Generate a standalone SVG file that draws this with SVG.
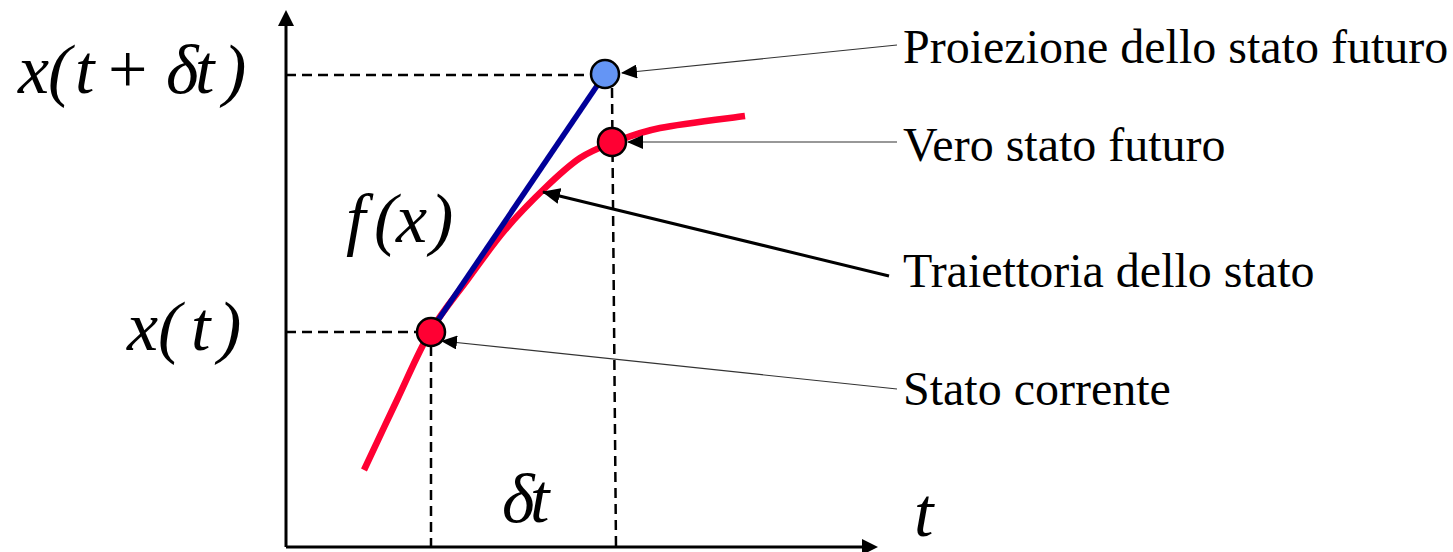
<svg xmlns="http://www.w3.org/2000/svg" width="1453" height="552" viewBox="0 0 1453 552">
<style>
.lbl{font-family:"Liberation Serif","Times New Roman",serif;font-size:48px;fill:#000}
.math{font-family:"Liberation Serif","Times New Roman",serif;font-style:italic;font-size:70px;fill:#000}
.up{font-style:normal}
.dash{stroke:#000;stroke-width:2.5;stroke-dasharray:10 6;fill:none}
.axis{stroke:#000;stroke-width:3;fill:none}
.thin{stroke:#333;stroke-width:1.2;fill:none}
.pt{stroke:#000;stroke-width:2.5}
</style>
<defs>
<marker id="ah" markerUnits="userSpaceOnUse" markerWidth="16" markerHeight="14" refX="15" refY="7" orient="auto">
<path d="M0,0 L16,7 L0,14 Z" fill="#000"/>
</marker>
<marker id="ahb" markerUnits="userSpaceOnUse" markerWidth="18" markerHeight="16" refX="17" refY="8" orient="auto">
<path d="M0,0 L18,8 L0,16 Z" fill="#000"/>
</marker>
</defs>
<rect width="1453" height="552" fill="#fff"/>
<g id="axes">
<line class="axis" x1="286" y1="547" x2="286" y2="24"/>
<path d="M286,10 L294,26 L278,26 Z" fill="#000"/>
<line class="axis" x1="286" y1="547" x2="863" y2="547"/>
<path d="M878,547 L862,539 L862,555 Z" fill="#000"/>
</g>
<g id="guides">
<line class="dash" x1="286" y1="75" x2="592" y2="75"/>
<line class="dash" x1="612" y1="88" x2="616" y2="547"/>
<line class="dash" x1="286" y1="332" x2="417" y2="332"/>
<line class="dash" x1="431" y1="346" x2="431" y2="547"/>
</g>
<g id="trajectory">
<path d="M364,470 C369.5,458.3 386,423 397,400 C408,377 418.2,352.2 430,332 C441.8,311.8 455.5,296 468,279 C480.5,262 492.2,245.2 505,230 C517.8,214.8 532.5,200 545,188 C557.5,176 568.8,165.5 580,158 C591.2,150.5 598.7,148 612,143 C625.3,138 637.8,132.5 660,128 C682.2,123.5 730.8,118 745,116" fill="none" stroke="#ff0033" stroke-width="6.5"/>
</g>
<g id="tangent">
<line x1="430" y1="332" x2="605" y2="74" stroke="#000099" stroke-width="5.5"/>
</g>
<g id="point-current"><circle class="pt" cx="431" cy="332" r="14" fill="#ff0033"/></g>
<g id="point-future"><circle class="pt" cx="612" cy="142" r="14" fill="#ff0033"/></g>
<g id="point-projection"><circle class="pt" cx="605" cy="74" r="14" fill="#6495f5"/></g>
<g id="connectors">
<line class="thin" x1="897" y1="45" x2="622" y2="73" marker-end="url(#ah)"/>
<line class="thin" x1="897" y1="142" x2="628" y2="142" marker-end="url(#ah)"/>
<line x1="889" y1="276" x2="543" y2="192" stroke="#000" stroke-width="3" marker-end="url(#ahb)"/>
<line class="thin" x1="897" y1="389" x2="442" y2="341" marker-end="url(#ah)"/>
</g>
<g id="label-proiezione"><text class="lbl" x="903" y="63">Proiezione dello stato futuro</text></g>
<g id="label-vero"><text class="lbl" x="903" y="161">Vero stato futuro</text></g>
<g id="label-traiettoria"><text class="lbl" x="903" y="287">Traiettoria dello stato</text></g>
<g id="label-corrente"><text class="lbl" x="903" y="405">Stato corrente</text></g>
<g id="math-labels">
<text class="math" x="18 48 75" y="93">x(t</text>
<text class="math up" x="108" y="93">+</text>
<text class="math" x="166 195 223" y="93">δt)</text>
<text class="math" x="127 158 191 218" y="350">x(t)</text>
<text class="math" x="346 374 396 430" y="242">f(x)</text>
<text class="math" x="502 530" y="522">δt</text>
<text class="math" x="914" y="536">t</text>
</g>
</svg>
